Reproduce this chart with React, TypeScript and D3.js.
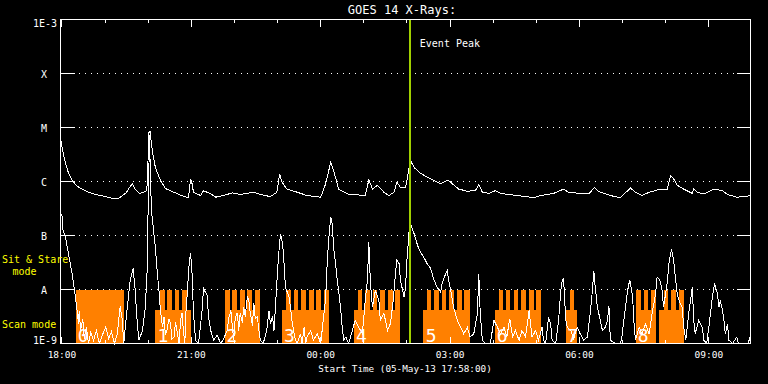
import React from "react";
import * as d3 from "d3";

// ---- time base (minutes after start) ----
const START_ISO = "2013-05-05T17:58:00Z";
const SPAN_HOURS = 16;
const EVENT_PEAK_MIN = 486;

// ---- y axis ----
const yTickValues = [1e-3, 1e-4, 1e-5, 1e-6, 1e-7, 1e-8, 1e-9];
const yTickLabels = ["1E-3", "X", "M", "C", "B", "A", "1E-9"];
const gridValues = [1e-4, 1e-5, 1e-6, 1e-7, 1e-8];

// ---- long channel (upper curve): minutes, log10 flux ----
const upperMin = [1, 3, 6, 10, 14, 21, 28, 39, 49, 63, 72, 81, 86, 92, 96, 100, 104, 110, 115, 120, 121, 123, 125, 126, 128, 132, 139, 146, 158, 172, 178, 181, 183, 185, 195, 199, 204, 209, 216, 227, 239, 250, 269, 278, 292, 301, 305, 308, 315, 325, 343, 362, 369, 376, 380, 387, 399, 424, 429, 434, 441, 450, 457, 464, 468, 473, 480, 482, 485, 488, 492, 499, 505, 512, 519, 529, 533, 539, 545, 554, 566, 577, 582, 587, 596, 605, 612, 635, 659, 668, 686, 700, 707, 723, 735, 743, 749, 765, 779, 793, 800, 809, 819, 832, 844, 849, 853, 858, 867, 879, 881, 886, 895, 909, 921, 928, 941, 951, 960];
const upperLog = [-5.26, -5.43, -5.61, -5.8, -5.93, -6.06, -6.13, -6.2, -6.24, -6.28, -6.31, -6.31, -6.26, -6.2, -6.11, -6.04, -6.15, -6.22, -6.2, -6.17, -5.94, -5.09, -5.07, -5.24, -5.46, -5.74, -5.98, -6.13, -6.2, -6.28, -6.3, -5.95, -6.04, -6.2, -6.26, -6.17, -6.2, -6.23, -6.29, -6.26, -6.21, -6.24, -6.2, -6.24, -6.28, -6.2, -5.86, -6.01, -6.14, -6.18, -6.26, -6.29, -6.04, -5.64, -5.8, -6.14, -6.23, -6.26, -5.97, -6.14, -6.07, -6.2, -6.26, -6.2, -6.01, -6.11, -6.12, -5.98, -5.74, -5.64, -5.74, -5.83, -5.88, -5.93, -5.98, -6.04, -6.01, -5.97, -6.04, -6.14, -6.18, -6.17, -6.06, -6.2, -6.22, -6.17, -6.22, -6.26, -6.3, -6.26, -6.22, -6.14, -6.2, -6.22, -6.23, -6.11, -6.19, -6.26, -6.3, -6.12, -6.2, -6.26, -6.2, -6.15, -6.14, -5.89, -5.95, -6.07, -6.14, -6.22, -6.14, -6.2, -6.23, -6.14, -6.17, -6.24, -6.29, -6.28, -6.26];

// ---- short channel (lower curve): minutes, log10 flux ----
const lowerMin = [2, 3, 7, 11, 16, 20, 23, 25, 26, 28, 31, 33, 36, 39, 42, 46, 50, 54, 58, 63, 67, 71, 75, 79, 83, 86, 88, 92, 97, 101, 104, 106, 109, 114, 118, 121, 122, 124, 125, 127, 132, 135, 137, 139, 142, 144, 146, 148, 151, 153, 155, 158, 160, 162, 165, 167, 169, 171, 173, 174, 176, 179, 181, 183, 185, 188, 192, 197, 199, 202, 204, 206, 209, 213, 218, 223, 227, 232, 234, 237, 239, 241, 243, 246, 248, 250, 253, 255, 257, 260, 262, 264, 267, 269, 271, 274, 276, 278, 282, 287, 290, 292, 295, 297, 299, 302, 304, 306, 309, 311, 313, 318, 320, 322, 325, 327, 329, 334, 336, 339, 341, 343, 348, 352, 357, 359, 362, 364, 369, 371, 373, 376, 378, 380, 383, 385, 387, 390, 392, 394, 397, 401, 406, 410, 415, 420, 422, 424, 427, 429, 431, 434, 438, 443, 445, 450, 455, 459, 463, 466, 468, 471, 473, 478, 480, 482, 485, 487, 492, 497, 501, 505, 510, 515, 519, 524, 529, 531, 533, 536, 538, 540, 543, 547, 552, 557, 561, 566, 570, 575, 580, 582, 584, 587, 591, 598, 603, 608, 612, 617, 621, 625, 629, 633, 638, 642, 647, 652, 656, 661, 665, 670, 672, 675, 679, 682, 684, 689, 693, 696, 698, 700, 701, 703, 705, 710, 714, 719, 723, 728, 733, 737, 740, 742, 744, 747, 749, 751, 754, 758, 761, 763, 765, 772, 779, 781, 786, 789, 792, 796, 798, 800, 805, 809, 814, 819, 823, 828, 830, 834, 837, 839, 844, 847, 850, 853, 856, 858, 862, 865, 867, 870, 874, 879, 881, 883, 888, 893, 895, 899, 902, 907, 910, 914, 916, 918, 921, 923, 925, 928, 930, 935, 941, 943, 957, 959];
const lowerLog = [-6.61, -6.87, -7.04, -7.33, -7.7, -8.07, -8.39, -8.63, -8.39, -8.76, -8.54, -8.91, -8.69, -9.1, -8.8, -8.94, -8.76, -9.1, -8.85, -8.69, -8.91, -8.78, -9.1, -8.83, -8.31, -8.57, -9.1, -8.44, -7.83, -7.61, -8.02, -8.48, -8.94, -8.76, -8.33, -7.52, -6.35, -5.13, -5.98, -6.59, -7.22, -7.74, -8.02, -8.39, -8.69, -8.51, -8.85, -8.76, -8.54, -8.63, -8.91, -8.88, -8.61, -8.76, -9.1, -8.57, -8.43, -8.76, -9.1, -8.51, -8.14, -7.52, -7.33, -7.7, -8.44, -8.94, -9.1, -8.39, -7.98, -8.06, -8.11, -8.51, -8.76, -8.94, -8.85, -9.1, -8.91, -8.76, -8.54, -8.39, -8.67, -8.94, -8.54, -8.43, -8.76, -8.44, -8.61, -8.33, -8.5, -8.14, -8.2, -8.43, -8.67, -8.26, -8.54, -8.51, -8.76, -8.94, -9.1, -8.76, -8.39, -8.63, -8.5, -8.76, -8.33, -7.65, -7.28, -6.97, -7.15, -7.52, -7.96, -8.14, -8.33, -8.57, -8.81, -8.94, -9.1, -8.82, -9.1, -8.7, -9.1, -8.88, -8.76, -8.94, -8.82, -8.88, -9.1, -8.76, -8.14, -7.52, -7.09, -6.66, -6.78, -7.22, -7.56, -7.83, -8.02, -8.39, -8.7, -8.94, -8.88, -9.1, -8.76, -8.57, -8.7, -8.82, -8.51, -8.2, -7.83, -7.12, -7.83, -8.33, -8.02, -8.2, -8.57, -8.44, -8.76, -8.63, -8.2, -7.71, -7.46, -7.52, -7.83, -8.14, -7.96, -7.46, -6.91, -6.78, -6.97, -7.19, -7.31, -7.39, -7.52, -7.61, -7.8, -7.96, -8.05, -7.89, -7.8, -7.71, -7.65, -7.83, -8.02, -8.33, -8.57, -8.7, -8.82, -8.7, -8.88, -8.82, -8.45, -7.71, -8.45, -8.94, -9.1, -9.1, -8.57, -8.7, -8.82, -8.7, -8.88, -8.54, -8.88, -8.76, -8.94, -8.76, -8.88, -8.39, -8.88, -8.76, -8.94, -8.7, -8.94, -9.1, -8.51, -8.64, -8.94, -9.1, -8.57, -8.02, -7.83, -7.8, -8.08, -8.57, -8.7, -8.76, -8.91, -8.7, -8.82, -8.94, -8.88, -8.45, -8.02, -7.65, -7.96, -8.33, -8.45, -8.57, -8.76, -8.7, -8.57, -8.3, -8.94, -9.1, -9.1, -8.88, -8.33, -8.02, -7.82, -8.14, -8.64, -8.94, -8.7, -8.82, -8.64, -8.82, -8.45, -8.08, -7.77, -7.83, -8.02, -8.33, -7.89, -7.46, -7.26, -7.46, -7.83, -8.08, -8.26, -8.33, -8.7, -8.94, -8.45, -7.96, -8.57, -8.82, -8.57, -8.7, -8.94, -9.1, -8.7, -8.14, -7.89, -8.08, -8.33, -8.2, -8.39, -8.57, -8.82, -8.64, -8.94, -9.1, -8.88, -9.1, -9.1, -8.88];

// ---- instrument mode bars (minutes) ----
const SCAN_FULL_LEVEL = 1e-8;
const SCAN_BASE_LEVEL = 4.1e-9;
const baseBars: [number, number][] = [[132, 182], [229, 278], [308, 374], [408, 473], [505, 570], [604, 669], [703, 719], [801, 829], [833, 867]];
const fullBars: [number, number][] = [
  [22, 89],
  [138, 145], [148, 155], [159, 165], [169, 176],
  [229, 236], [239, 246], [250, 257], [260, 267], [271, 278],
  [314, 320], [325, 331], [335, 341], [346, 352], [356, 362], [367, 374],
  [414, 420], [424, 430], [435, 441], [445, 451], [455, 462], [466, 473],
  [510, 516], [520, 526], [531, 537], [541, 547], [552, 558], [562, 570],
  [610, 615], [620, 626], [631, 637], [641, 648], [652, 659], [662, 669],
  [709, 714],
  [801, 807], [812, 818], [822, 828],
  [839, 845], [850, 856], [860, 867],
];
const scanLabelMin = [24, 135, 231, 311, 411, 508, 607, 705, 803];
const scanLabelText = ["0", "1", "2", "3", "4", "5", "6", "7", "8"];

const W = 768;
const H = 384;
const FONT = "'DejaVu Sans Mono', monospace";
const ORANGE = "#ff8000";
const GREEN = "#a0d000";

export default function App() {
  const start = new Date(START_ISO);
  const end = new Date(start.getTime() + SPAN_HOURS * 3600000);
  const toDate = (m: number) => new Date(start.getTime() + m * 60000);

  const x = d3.scaleUtc().domain([start, end]).range([60.5, 750.5]);
  const y = d3.scaleLog().domain([1e-9, 1e-3]).range([343.5, 19.5]);
  const yv = (e: number) => y(Math.max(Math.pow(10, e), 1e-9));

  const line = d3
    .line<[number, number]>()
    .x((d) => x(toDate(d[0])))
    .y((d) => yv(d[1]));

  const upperPts = upperMin.map((m, i) => [m, upperLog[i]] as [number, number]);
  const lowerPts = lowerMin.map((m, i) => [m, lowerLog[i]] as [number, number]);

  const majorTicks = x.ticks(d3.utcHour.every(3)!);
  const minorTicks = x.ticks(d3.utcHour.every(1)!);
  const fmt = d3.utcFormat("%H:%M");

  const x0 = x.range()[0];
  const x1 = x.range()[1];
  const yTop = y(1e-3);
  const yBot = y(1e-9);

  const rectOf = (s: number, e: number, lvl: number, key: string) => {
    const xa = Math.round(x(toDate(s)));
    const xb = Math.round(x(toDate(e)));
    const ya = Math.round(y(lvl));
    return <rect key={key} x={xa} y={ya} width={xb - xa} height={Math.round(yBot) - ya} fill={ORANGE} />;
  };

  return (
    <svg
      width={W}
      height={H}
      style={{ position: "fixed", left: 0, top: 0, display: "block" }}
      shapeRendering="crispEdges"
    >
      <rect x={0} y={0} width={W} height={H} fill="#000" />

      {/* mode bars */}
      {baseBars.map((b, i) => rectOf(b[0], b[1], SCAN_BASE_LEVEL, "b" + i))}
      {fullBars.map((b, i) => rectOf(b[0], b[1], SCAN_FULL_LEVEL, "f" + i))}
      {scanLabelMin.map((m, i) => (
        <text key={"sl" + i} x={x(toDate(m))} y={341.5} fill="#fff" fontFamily={FONT} fontSize={18}>
          {scanLabelText[i]}
        </text>
      ))}

      {/* grid */}
      {gridValues.map((v, i) => (
        <line key={"g" + i} x1={x0} x2={x1} y1={y(v)} y2={y(v)} stroke="#fff" strokeWidth={1} strokeDasharray="1 5" />
      ))}

      {/* data */}
      <path d={line(lowerPts) || ""} fill="none" stroke="#fff" strokeWidth={1} />
      <path d={line(upperPts) || ""} fill="none" stroke="#fff" strokeWidth={1} />

      {/* event peak */}
      <line x1={x(toDate(EVENT_PEAK_MIN))} x2={x(toDate(EVENT_PEAK_MIN))} y1={yTop} y2={yBot} stroke={GREEN} strokeWidth={2.5} />
      <text x={x(toDate(EVENT_PEAK_MIN)) + 10} y={46.5} fill="#fff" fontFamily={FONT} fontSize={10}>
        Event Peak
      </text>

      {/* frame */}
      <rect x={x0} y={yTop} width={x1 - x0} height={yBot - yTop} fill="none" stroke="#fff" strokeWidth={1} />

      {/* y ticks */}
      {yTickValues.map((v, i) => (
        <g key={"yt" + i}>
          <line x1={x0} x2={x0 + 14} y1={y(v)} y2={y(v)} stroke="#fff" />
          <line x1={x1 - 14} x2={x1} y1={y(v)} y2={y(v)} stroke="#fff" />
        </g>
      ))}
      {yTickValues.map((v, i) => {
        const lab = yTickLabels[i];
        const isNum = lab.length > 1;
        const base = i === 0 ? y(v) + 7 : i === yTickValues.length - 1 ? y(v) : y(v) + 4.5;
        return (
          <text
            key={"yl" + i}
            x={isNum ? 57 : 44}
            y={base}
            textAnchor={isNum ? "end" : "middle"}
            fill="#fff"
            fontFamily={FONT}
            fontSize={10}
          >
            {lab}
          </text>
        );
      })}

      {/* x ticks */}
      {minorTicks.map((t, i) => (
        <g key={"mt" + i}>
          <line x1={x(t)} x2={x(t)} y1={yTop} y2={yTop + 3.5} stroke="#fff" />
          <line x1={x(t)} x2={x(t)} y1={yBot} y2={yBot - 3.5} stroke="#fff" />
        </g>
      ))}
      {majorTicks.map((t, i) => (
        <g key={"Mt" + i}>
          <line x1={x(t)} x2={x(t)} y1={yTop} y2={yTop + 7} stroke="#fff" />
          <line x1={x(t)} x2={x(t)} y1={yBot} y2={yBot - 7} stroke="#fff" />
          <text x={x(t)} y={358} textAnchor="middle" fill="#fff" fontFamily={FONT} fontSize={9.5}>
            {fmt(t)}
          </text>
        </g>
      ))}

      {/* titles */}
      <text x={402} y={13.5} textAnchor="middle" fill="#fff" fontFamily={FONT} fontSize={12}>
        GOES 14 X-Rays:
      </text>
      <text x={405} y={371.5} textAnchor="middle" fill="#fff" fontFamily={FONT} fontSize={9.3}>
        Start Time (05-May-13 17:58:00)
      </text>

      {/* mode labels */}
      <text x={2} y={263} fill="#ffff00" fontFamily={FONT} fontSize={10}>Sit &amp; Stare</text>
      <text x={12.5} y={275} fill="#ffff00" fontFamily={FONT} fontSize={10}>mode</text>
      <text x={2} y={327.5} fill="#ffff00" fontFamily={FONT} fontSize={10}>Scan mode</text>
    </svg>
  );
}
